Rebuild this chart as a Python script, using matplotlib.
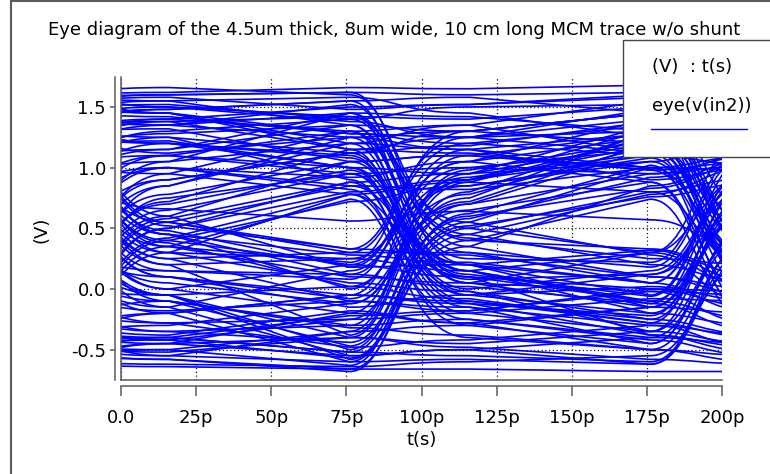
import matplotlib
matplotlib.use("Agg")
import matplotlib.pyplot as plt
from matplotlib.path import Path
from matplotlib.patches import PathPatch, Rectangle
from matplotlib.lines import Line2D

# ---------------- data ----------------
# Each trace: voltage (V) at the knot times below (ps):
# [before 1st edge, after 1st edge, before 2nd edge, after 2nd edge, before 3rd edge, after 3rd edge]
knot_times = [-24, 16, 76, 116, 176, 216]

rise_traces = [  # low bit -> high bit at ~93 ps
    [-0.52, -0.58, -0.68, 0.50, 0.80, 0.92],
    [-0.48, -0.50, -0.63, 0.62, 1.02, -0.25],
    [-0.30, -0.42, -0.57, 0.45, 0.78, 1.02],
    [0.40, -0.05, -0.50, 0.70, 1.15, 0.10],
    [-0.15, -0.35, -0.44, 0.58, 0.92, 1.12],
    [0.95, 0.20, -0.38, 0.88, 1.25, -0.05],
    [0.70, -0.10, -0.30, 0.95, 1.05, 1.28],
    [1.30, 0.38, 0.02, 0.78, 1.18, 0.30],
    [1.55, 0.60, 0.18, 1.05, 1.40, 1.45],
    [1.10, 0.25, 0.30, 1.20, 1.35, -0.02],
    [-0.60, -0.45, -0.20, 0.90, 1.10, 1.20],
    [0.20, -0.20, -0.05, 1.10, 1.00, 0.20],
    [1.62, 0.52, 0.33, 1.25, 1.48, 1.55],
    [-0.05, -0.28, -0.25, 0.75, 1.30, 1.38],
    [0.55, 0.05, -0.12, 0.65, 0.88, -0.30],
    [-0.62, -0.64, -0.66, 0.40, 0.74, -0.35],
    [1.20, 0.45, 0.12, 1.00, 0.95, 1.10],
    [-0.40, -0.20, -0.60, 0.55, 1.00, 0.98],
    [0.30, 0.15, 0.08, 1.15, 1.28, 1.40],
    [1.45, 0.30, 0.25, 0.85, 1.08, 0.05],
    [-0.25, -0.10, -0.47, 0.60, 0.83, 1.05],
    [0.85, 0.10, -0.08, 0.72, 1.20, 1.22],
    [-0.35, -0.55, -0.35, 0.98, 1.22, 0.15],
    [1.00, 0.35, 0.22, 1.30, 1.45, 1.50],
    [-0.55, -0.40, -0.52, 0.52, 0.76, 0.88],
    [0.10, -0.15, 0.15, 0.92, 1.12, -0.12],
]

fall_traces = [  # high bit -> low bit at ~93 ps
    [1.55, 1.60, 1.62, 0.40, 0.33, 0.10],
    [1.40, 1.48, 1.55, 0.20, -0.05, 1.20],
    [1.22, 1.38, 1.42, 0.55, 0.28, -0.15],
    [0.90, 1.20, 1.10, 0.00, 0.15, 0.95],
    [-0.55, 0.42, 0.78, -0.25, -0.42, -0.55],
    [-0.30, 0.75, 0.95, -0.05, -0.20, 0.70],
    [0.05, 0.95, 1.30, 0.30, 0.05, -0.20],
    [1.60, 1.45, 1.15, -0.10, -0.28, 1.00],
    [-0.62, 0.35, 0.74, -0.40, -0.50, -0.60],
    [1.30, 1.12, 1.25, 0.10, -0.10, 0.80],
    [0.30, 1.05, 1.45, 0.45, 0.20, 0.05],
    [1.05, 1.25, 0.90, -0.20, -0.35, -0.45],
    [-0.20, 0.60, 1.05, 0.15, -0.12, 1.05],
    [1.48, 1.35, 1.52, 0.35, 0.10, 0.00],
    [0.60, 1.00, 0.82, -0.30, -0.45, 0.60],
    [-0.45, 0.50, 0.88, -0.15, -0.30, -0.48],
    [1.15, 1.28, 1.35, 0.25, 0.22, 1.25],
    [0.15, 0.85, 1.20, 0.05, -0.02, -0.30],
    [1.62, 1.66, 1.60, 0.50, 0.30, 1.35],
    [-0.05, 0.70, 0.98, -0.02, -0.25, -0.38],
    [1.35, 1.20, 1.08, 0.08, 0.12, 0.90],
    [0.80, 1.10, 1.00, -0.12, -0.38, -0.52],
    [-0.40, 0.55, 0.85, 0.20, -0.15, 0.72],
    [1.25, 1.40, 1.30, -0.05, 0.02, -0.10],
    [0.45, 0.90, 1.12, 0.12, -0.06, 1.10],
    [1.50, 1.52, 1.40, 0.42, 0.25, 0.20],
]

high_traces = [  # high bit -> high bit
    [1.60, 1.62, 1.66, 1.65, 1.68, 1.66],
    [1.58, 1.60, 1.62, 1.60, 1.62, 0.55],
    [1.48, 1.45, 1.28, 1.20, 1.10, 1.02],
    [1.35, 1.40, 1.50, 1.52, 1.58, 0.40],
    [1.10, 1.15, 1.45, 1.42, 1.30, 1.42],
    [0.95, 1.05, 1.20, 1.35, 1.55, 0.30],
    [-0.55, 0.50, 0.80, 0.90, 1.18, 1.25],
    [-0.25, 0.65, 0.95, 1.00, 1.15, 0.20],
    [0.20, 0.90, 1.12, 1.30, 1.45, 1.50],
    [1.45, 1.50, 1.38, 1.25, 1.40, 0.45],
    [1.25, 1.20, 1.00, 0.95, 1.20, 1.30],
    [0.05, 0.78, 1.05, 1.10, 0.98, 0.05],
    [1.50, 1.55, 1.58, 1.45, 1.25, 1.20],
    [-0.62, 0.40, 0.72, 0.85, 1.05, 0.10],
    [1.05, 1.30, 1.40, 1.50, 1.52, 1.55],
    [0.40, 1.00, 0.85, 0.82, 1.00, 1.10],
    [1.30, 1.25, 1.12, 1.18, 1.38, 0.35],
    [-0.10, 0.72, 1.15, 1.25, 1.30, 1.35],
    [1.55, 1.58, 1.48, 1.52, 1.60, 1.62],
    [0.85, 1.00, 0.92, 1.05, 1.25, 0.50],
    [1.20, 1.35, 1.25, 1.15, 0.90, 1.00],
    [-0.40, 0.58, 0.88, 0.95, 1.35, 1.40],
    [1.40, 1.48, 1.55, 1.58, 1.45, 0.25],
    [0.60, 1.10, 1.30, 1.35, 1.12, 1.18],
    [1.00, 0.95, 0.78, 0.88, 0.80, 0.12],
    [1.62, 1.50, 1.42, 1.40, 1.50, 1.52],
]

low_traces = [  # low bit -> low bit
    [-0.55, -0.58, -0.66, -0.66, -0.68, -0.68],
    [-0.50, -0.55, -0.60, -0.58, -0.62, 0.48],
    [-0.45, -0.42, -0.25, -0.20, -0.08, -0.10],
    [-0.35, -0.40, -0.52, -0.55, -0.60, 0.40],
    [-0.20, -0.28, -0.48, -0.42, -0.30, -0.38],
    [-0.05, -0.18, -0.10, -0.15, -0.45, 0.62],
    [1.60, 0.55, 0.33, 0.28, 0.10, -0.05],
    [1.40, 0.35, 0.10, 0.05, 0.30, 1.00],
    [1.15, 0.20, 0.25, 0.15, -0.20, -0.30],
    [0.90, 0.10, -0.05, -0.10, -0.25, 0.80],
    [0.75, 0.00, -0.20, -0.28, -0.15, -0.20],
    [1.30, 0.48, 0.18, 0.20, 0.32, 0.05],
    [1.05, 0.30, 0.05, -0.02, -0.35, 0.90],
    [-0.60, -0.62, -0.64, -0.60, -0.55, 0.30],
    [0.10, -0.10, -0.32, -0.38, -0.50, -0.55],
    [0.30, 0.10, -0.15, -0.05, 0.12, 0.70],
    [-0.25, -0.35, -0.30, -0.25, -0.40, -0.45],
    [1.50, 0.45, 0.28, 0.22, 0.05, 1.05],
    [0.85, 0.15, 0.12, 0.02, -0.12, -0.35],
    [-0.40, -0.45, -0.40, -0.48, -0.58, -0.62],
    [0.00, -0.05, -0.40, -0.45, -0.35, 0.55],
    [1.20, 0.40, 0.20, 0.10, 0.00, -0.15],
    [-0.55, -0.45, -0.55, -0.50, -0.40, 0.52],
    [0.55, -0.05, 0.02, -0.08, -0.28, -0.40],
    [-0.30, -0.20, -0.05, -0.12, -0.22, 0.95],
    [1.00, 0.25, -0.10, -0.18, 0.00, -0.02],
]

ringing_traces = [  # traces that drift against the rail within a bit
    [0.90, 0.66, 0.56, 0.64, 0.57, 0.30],
    [1.50, 1.45, 1.20, 1.15, 1.00, 0.20],
    [1.35, 1.38, 1.15, 1.12, 0.98, 1.05],
    [-0.45, -0.40, -0.22, -0.18, -0.02, -0.05],
    [-0.35, -0.30, -0.12, 0.70, 0.95, 1.02],
    [1.20, 1.22, 1.00, 0.20, 0.05, 1.00],
    [-0.55, -0.50, -0.35, -0.30, -0.15, 0.70],
    [1.45, 1.42, 1.28, 1.25, 1.12, 1.15],
    [1.58, 1.55, 1.35, 1.30, 1.45, 1.48],
    [1.05, 1.10, 0.95, 0.15, -0.10, -0.25],
    [-0.50, -0.52, -0.40, 0.80, 1.30, 1.35],
    [0.50, -0.15, -0.55, -0.50, -0.62, 0.35],
    [1.40, 1.35, 1.45, 0.05, -0.15, 0.85],
    [-0.20, 0.85, 1.25, 1.30, 1.20, 0.40],
    [0.65, 0.00, 0.20, 1.05, 0.88, -0.15],
    [1.15, 0.55, 0.30, 0.30, 0.18, 1.20],
    [-0.60, 0.30, 0.78, 0.10, -0.38, -0.48],
    [1.30, 1.32, 1.05, 1.10, 1.28, 1.30],
    [-0.30, -0.38, -0.18, -0.28, -0.50, 0.45],
    [0.95, 1.15, 1.35, 0.15, 0.30, 0.00],
    [0.25, -0.05, -0.58, 0.35, 0.85, 1.08],
    [1.55, 0.45, 0.00, 0.90, 1.32, 0.30],
]

x_ticks = [0, 25, 50, 75, 100, 125, 150, 175, 200]
x_tick_labels = ["0.0", "25p", "50p", "75p", "100p", "125p", "150p", "175p", "200p"]
y_ticks = [-0.5, 0.0, 0.5, 1.0, 1.5]
y_tick_labels = ["-0.5", "0.0", "0.5", "1.0", "1.5"]

title_text = "Eye diagram of the 4.5um thick, 8um wide, 10 cm long MCM trace w/o shunt"
legend_header = "(V)  : t(s)"
legend_label = "eye(v(in2))"

# ---------------- drawing ----------------
W, H = 770, 474
plt.rcParams["font.family"] = ["DejaVu Sans"]
fig = plt.figure(figsize=(W / 100, H / 100), dpi=100)
ax = fig.add_axes([121 / W, 1 - 380 / H, (722 - 121) / W, (380 - 77) / H])

BLUE = "#0000ff"
GREY = "#5a5a5a"
FS = 13
EDGE_CTRL = 0.4  # bezier control position inside a bit edge (style)


def trace_path(levels):
    t = knot_times
    verts = [(t[0], levels[0])]
    codes = [Path.MOVETO]
    for i in range(len(t) - 1):
        x0, y0, x1, y1 = t[i], levels[i], t[i + 1], levels[i + 1]
        if i % 2 == 0:  # bit edge: smooth step, sharp knee and slow settling
            xc = x0 + EDGE_CTRL * (x1 - x0)
            verts += [(xc, y0), (xc, y1), (x1, y1)]
            codes += [Path.CURVE4] * 3
        else:  # drift within the bit
            verts.append((x1, y1))
            codes.append(Path.LINETO)
    return Path(verts, codes)


for group in (rise_traces, fall_traces, high_traces, low_traces, ringing_traces):
    for lv in group:
        ax.add_patch(PathPatch(trace_path(lv), fill=False, edgecolor=BLUE,
                               lw=1.2, zorder=2))

ax.set_xlim(0, 200)
ax.set_ylim(-0.75, 1.747)
ax.set_xticks(x_ticks, x_tick_labels)
ax.set_yticks(y_ticks, y_tick_labels)

ax.set_axisbelow(True)
ax.grid(True, color="#111111", linestyle=(0, (1, 2)), linewidth=0.9)

for s in ("top", "right"):
    ax.spines[s].set_visible(False)
ax.spines["left"].set_position(("outward", 4.3))
ax.spines["bottom"].set_position(("outward", 4.6))
for s in ("left", "bottom"):
    ax.spines[s].set_color(GREY)
    ax.spines[s].set_linewidth(1.1)

ax.tick_params(axis="x", direction="out", length=7.5, width=1.1, color=GREY,
               pad=9, labelsize=FS, labelcolor="black")
ax.tick_params(axis="y", direction="out", length=3.5, width=1.1, color=GREY,
               pad=3, labelsize=FS, labelcolor="black")

# plot box (left and bottom edges)
ax.add_line(Line2D([0, 0], [0, 1], transform=ax.transAxes, color=GREY, lw=1.1,
                   zorder=3, clip_on=False))
ax.add_line(Line2D([0, 1], [0, 0], transform=ax.transAxes, color=GREY, lw=1.1,
                   zorder=3, clip_on=False))

ax.set_xlabel("t(s)", fontsize=FS, labelpad=3)
fig.text(42 / W, 1 - 230 / H, "(V)", rotation=90, fontsize=FS, ha="center", va="center")

fig.text(394 / W, 1 - 30 / H, title_text, fontsize=FS, ha="center", va="center")

# legend box
fig.add_artist(Rectangle((623 / W, 1 - 157 / H), 0.25, (157 - 40) / H,
                         transform=fig.transFigure, facecolor="white",
                         edgecolor="#444444", lw=1.0, zorder=10))
fig.text(652 / W, 1 - 67 / H, legend_header, fontsize=FS, ha="left", va="center", zorder=11)
fig.text(652 / W, 1 - 106 / H, legend_label, fontsize=FS, ha="left", va="center", zorder=11)
fig.add_artist(Line2D([651 / W, 747 / W], [1 - 129 / H, 1 - 129 / H],
                      transform=fig.transFigure, color=BLUE, lw=1.0, zorder=11))

# outer frame of the figure
fig.add_artist(Line2D([11 / W, 11 / W], [0, 1 - 1 / H], transform=fig.transFigure,
                      color=GREY, lw=1.5, zorder=12))
fig.add_artist(Line2D([11 / W, 1], [1 - 1 / H, 1 - 1 / H], transform=fig.transFigure,
                      color=GREY, lw=1.5, zorder=12))

fig.savefig("out.png", dpi=100)
